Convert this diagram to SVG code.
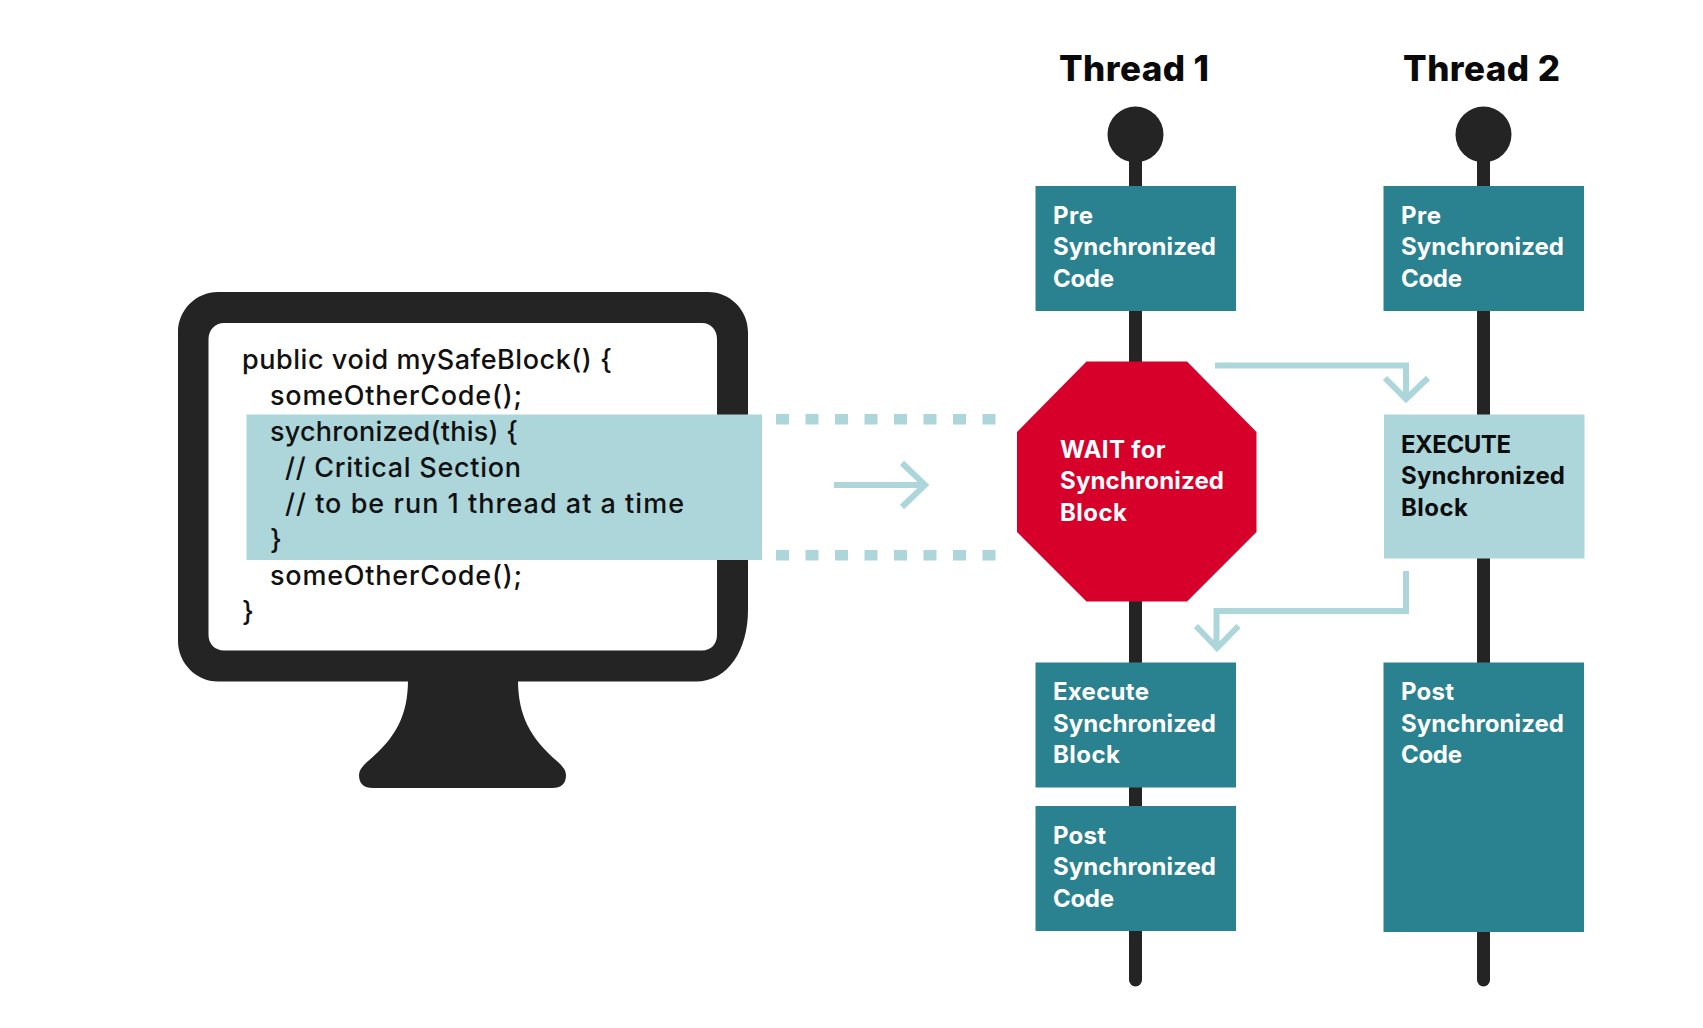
<svg xmlns="http://www.w3.org/2000/svg" width="1703" height="1028" viewBox="0 0 1703 1028">
<style>
text{font-family:"Inter","Noto Sans","Liberation Sans",sans-serif}
.code{font-size:27px;font-weight:500;fill:#111}
.title{font-size:35px;font-weight:800;fill:#0a0a0a}
.lb{font-size:24px;font-weight:700;fill:#fff}
.dk{fill:#0d0d0d}
.teal{fill:#2a8291}
.pale{fill:#add6db}
.ink{fill:#242424}
.arr{fill:none;stroke:#add6db;stroke-width:6}
</style>
<rect width="1703" height="1028" fill="#fff"/>
<g id="connectors">
<line x1="1135.5" y1="134" x2="1135.5" y2="980" stroke="#242424" stroke-width="13" stroke-linecap="round"/>
<line x1="1483.5" y1="134" x2="1483.5" y2="980" stroke="#242424" stroke-width="13" stroke-linecap="round"/>
<circle class="ink" cx="1135.5" cy="134.5" r="28"/>
<circle class="ink" cx="1483.5" cy="134.5" r="28"/>
</g>
<g id="monitor">
<path class="ink" d="M408 680C408 715 396 738 367 762Q359 769 359 775Q359 788 373 788L552 788Q566 788 566 775Q566 769 558 762C530 738 518 715 518 680Z"/>
<path class="ink" fill-rule="evenodd" d="M218 292H708C730 292 748 310 748 332V610C748 650 728 681.500 696 681.500H218C196 681.500 178 663 178 641V332C178 310 196 292 218 292ZM224 323C215 323 208.500 330 208.500 339V635C208.500 644 215 650.500 224 650.500H702C711 650.500 717 644 717 635V339C717 330 711 323 702 323Z"/>
<rect class="pale" x="246.500" y="414.500" width="515.500" height="145.500"/>
<text class="code" x="242" y="369" textLength="370" lengthAdjust="spacing">public void mySafeBlock() {</text>
<text class="code" x="270" y="405" textLength="252" lengthAdjust="spacing">someOtherCode();</text>
<text class="code" x="270" y="441" textLength="248" lengthAdjust="spacing">sychronized(this) {</text>
<text class="code" x="285" y="477" textLength="236" lengthAdjust="spacing">// Critical Section</text>
<text class="code" x="285" y="513" textLength="399" lengthAdjust="spacing">// to be run 1 thread at a time</text>
<text class="code" x="270" y="549">}</text>
<text class="code" x="270" y="585" textLength="252" lengthAdjust="spacing">someOtherCode();</text>
<text class="code" x="242" y="621">}</text>
</g>
<g id="section-guides">
<g class="pale">
<rect x="776" y="414" width="13" height="10.500"/><rect x="805.500" y="414" width="13" height="10.500"/><rect x="835" y="414" width="13" height="10.500"/><rect x="864.500" y="414" width="13" height="10.500"/><rect x="894" y="414" width="13" height="10.500"/><rect x="923.500" y="414" width="13" height="10.500"/><rect x="953" y="414" width="13" height="10.500"/><rect x="982.500" y="414" width="13" height="10.500"/>
<rect x="776" y="550" width="13" height="10.500"/><rect x="805.500" y="550" width="13" height="10.500"/><rect x="835" y="550" width="13" height="10.500"/><rect x="864.500" y="550" width="13" height="10.500"/><rect x="894" y="550" width="13" height="10.500"/><rect x="923.500" y="550" width="13" height="10.500"/><rect x="953" y="550" width="13" height="10.500"/><rect x="982.500" y="550" width="13" height="10.500"/>
</g>
<path class="arr" d="M834 485H925M902 463L925 485L902 507"/>
</g>
<g id="thread-1-title"><text class="title" x="1059" y="81" textLength="150" lengthAdjust="spacing">Thread 1</text></g>
<g id="thread-2-title"><text class="title" x="1403" y="81" textLength="157" lengthAdjust="spacing">Thread 2</text></g>
<g id="t1-pre"><rect class="teal" x="1035.500" y="186" width="200.500" height="125"/>
<text class="lb" x="1053" y="224" textLength="40" lengthAdjust="spacing">Pre</text><text class="lb" x="1053" y="255" textLength="163" lengthAdjust="spacing">Synchronized</text><text class="lb" x="1053" y="286.500" textLength="61" lengthAdjust="spacing">Code</text></g>
<g id="t2-pre"><rect class="teal" x="1383.500" y="186" width="200.500" height="125"/>
<text class="lb" x="1401" y="224" textLength="40" lengthAdjust="spacing">Pre</text><text class="lb" x="1401" y="255" textLength="163" lengthAdjust="spacing">Synchronized</text><text class="lb" x="1401" y="286.500" textLength="61" lengthAdjust="spacing">Code</text></g>
<g id="t1-wait"><polygon points="1086.500,361.500 1187,361.500 1256.500,432 1256.500,532 1187,601.500 1086.500,601.500 1017,532 1017,432" fill="#d7002a"/>
<text class="lb" x="1060" y="457.500" textLength="105.500" lengthAdjust="spacing">WAIT for</text><text class="lb" x="1060" y="489" textLength="164" lengthAdjust="spacing">Synchronized</text><text class="lb" x="1060" y="520.500" textLength="67" lengthAdjust="spacing">Block</text></g>
<g id="t2-execute"><rect class="pale" x="1384" y="414.500" width="200.500" height="144"/>
<text class="lb dk" x="1401" y="452.500" textLength="110" lengthAdjust="spacing">EXECUTE</text><text class="lb dk" x="1401" y="484" textLength="164" lengthAdjust="spacing">Synchronized</text><text class="lb dk" x="1401" y="515.500" textLength="67" lengthAdjust="spacing">Block</text></g>
<g id="t1-execute"><rect class="teal" x="1035.500" y="662.500" width="200.500" height="125"/>
<text class="lb" x="1053" y="700" textLength="96" lengthAdjust="spacing">Execute</text><text class="lb" x="1053" y="731.500" textLength="163" lengthAdjust="spacing">Synchronized</text><text class="lb" x="1053" y="763" textLength="67" lengthAdjust="spacing">Block</text></g>
<g id="t1-post"><rect class="teal" x="1035.500" y="806" width="200.500" height="125"/>
<text class="lb" x="1053" y="844" textLength="53" lengthAdjust="spacing">Post</text><text class="lb" x="1053" y="875" textLength="163" lengthAdjust="spacing">Synchronized</text><text class="lb" x="1053" y="906.500" textLength="61" lengthAdjust="spacing">Code</text></g>
<g id="t2-post"><rect class="teal" x="1383.500" y="662.500" width="200.500" height="269.500"/>
<text class="lb" x="1401" y="700" textLength="53" lengthAdjust="spacing">Post</text><text class="lb" x="1401" y="731.500" textLength="163" lengthAdjust="spacing">Synchronized</text><text class="lb" x="1401" y="763" textLength="61" lengthAdjust="spacing">Code</text></g>
<g id="sync-arrows">
<path class="arr" d="M1215 365.500H1406V398M1385 378L1406 399L1428 378"/>
<path class="arr" d="M1406 571V611H1216.500V647M1196 626L1217 648L1238.500 626"/>
</g>
</svg>
